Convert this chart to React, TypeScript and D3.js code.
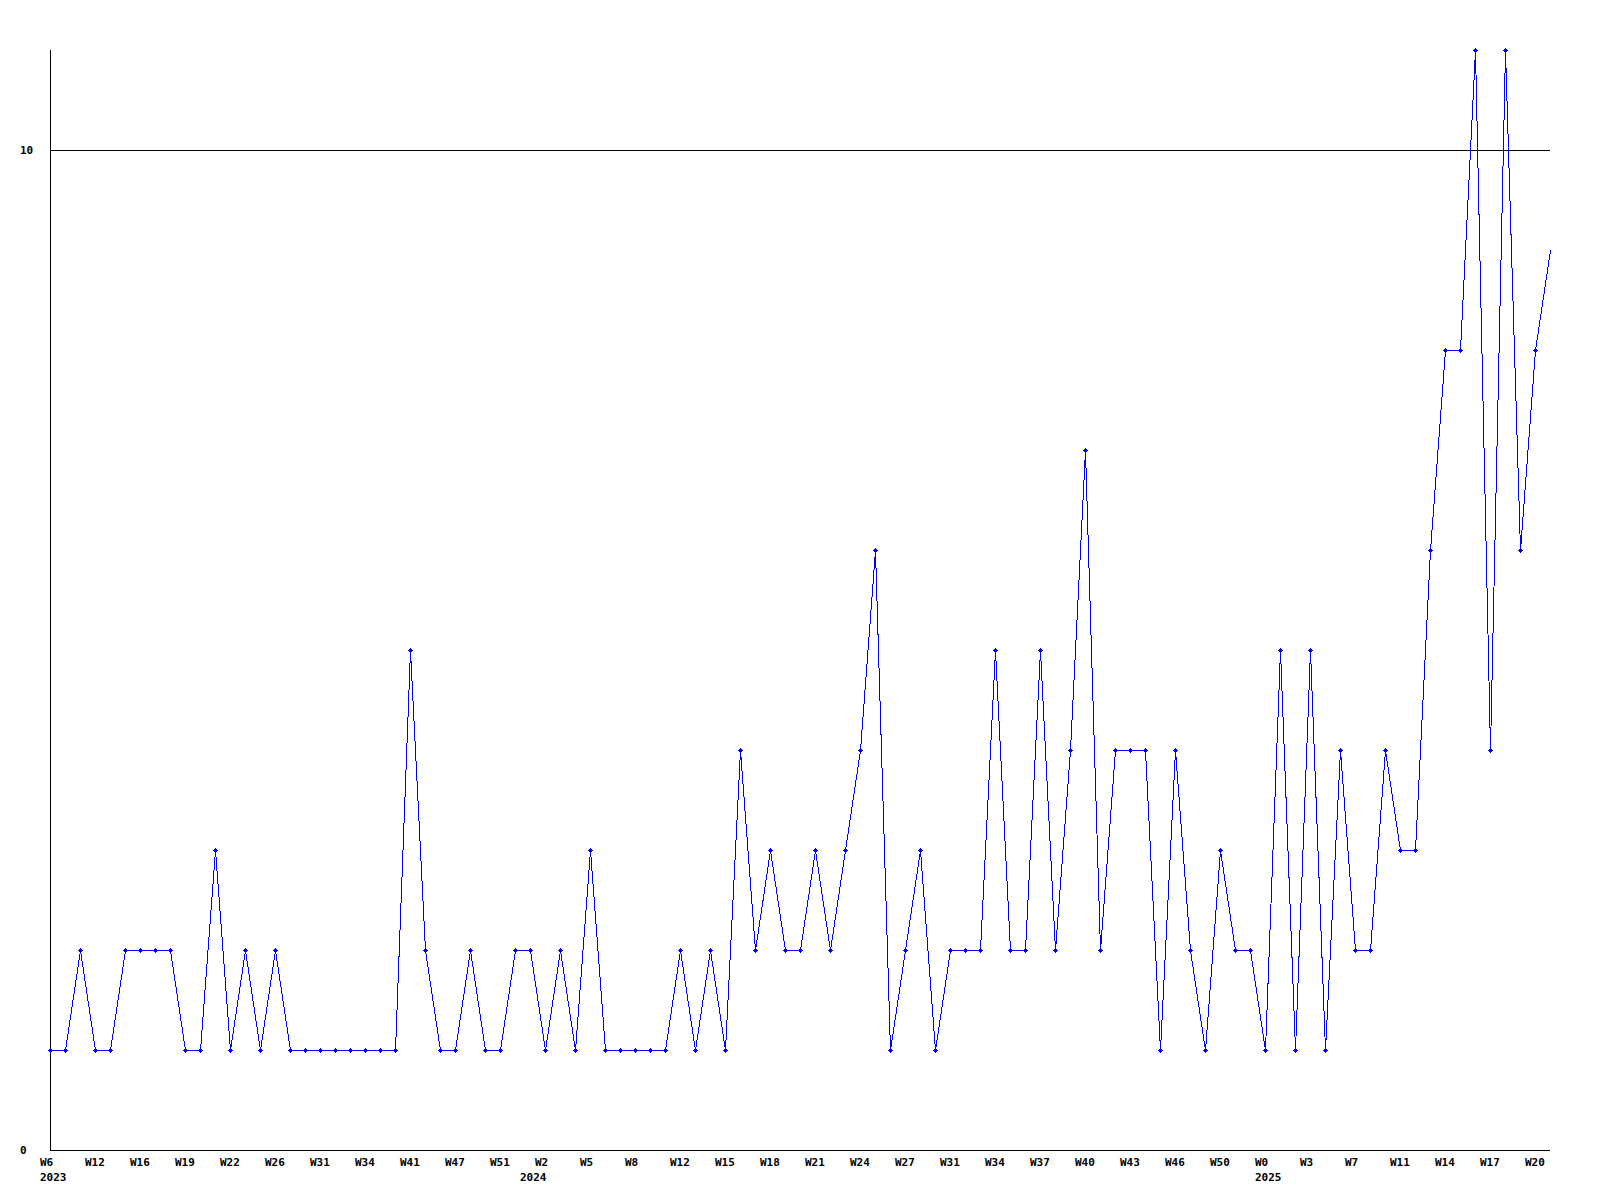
import React from "react";
import * as d3 from "d3";

const values: number[] = [
  1, 1, 2, 1, 1, 2, 2, 2, 2, 1,
  1, 3, 1, 2, 1, 2, 1, 1, 1, 1,
  1, 1, 1, 1, 5, 2, 1, 1, 2, 1,
  1, 2, 2, 1, 2, 1, 3, 1, 1, 1,
  1, 1, 2, 1, 2, 1, 4, 2, 3, 2,
  2, 3, 2, 3, 4, 6, 1, 2, 3, 1,
  2, 2, 2, 5, 2, 2, 5, 2, 4, 7,
  2, 4, 4, 4, 1, 4, 2, 1, 3, 2,
  2, 1, 5, 1, 5, 1, 4, 2, 2, 4,
  3, 3, 6, 8, 8, 11, 4, 11, 6, 8,
  9,
];

const weekLabels: string[] = [
  "W6", "W12", "W16", "W19", "W22", "W26", "W31", "W34", "W41", "W47", "W51", "W2",
  "W5", "W8", "W12", "W15", "W18", "W21", "W24", "W27", "W31", "W34", "W37", "W40",
  "W43", "W46", "W50", "W0", "W3", "W7", "W11", "W14", "W17", "W20",
];
const labelStep = 3;

const yearLabels: string[] = ["2023", "2024", "2025"];
const yearIndices: number[] = [0, 32, 81];

const yTicks: number[] = [0, 10];
const gridValues: number[] = [10];

const W = 1600;
const H = 1200;
const left = 50;
const right = 1550;
const top = 50;
const bottom = 1150;

export default function App() {
  const x = d3.scaleLinear().domain([0, values.length - 1]).range([left, right]);
  const y = d3.scaleLinear().domain([0, 11]).range([bottom, top]);
  const line = d3
    .line<number>()
    .x((_, i) => x(i))
    .y((d) => y(d));
  const font = "'DejaVu Sans Mono', monospace";
  const marker = "M-2.5,-0.5h5v1h-5z M-0.5,-2.5h1v5h-1z M-1.5,-1.5h3v3h-3z";

  return (
    <div style={{ position: "absolute", left: 0, top: 0 }}>
      <svg width={W} height={H} style={{ display: "block", background: "#fff" }}>
        <rect x={0} y={0} width={W} height={H} fill="#fff" />
        {gridValues.map((g) => (
          <line
            key={"g" + g}
            x1={left}
            x2={right}
            y1={y(g) + 0.5}
            y2={y(g) + 0.5}
            stroke="#000"
            strokeWidth={1}
            shapeRendering="crispEdges"
          />
        ))}
        <line x1={left + 0.5} x2={left + 0.5} y1={top} y2={bottom + 1} stroke="#000" shapeRendering="crispEdges" />
        <line x1={left} x2={right} y1={bottom + 0.5} y2={bottom + 0.5} stroke="#000" shapeRendering="crispEdges" />
        <path
          d={line(values) || ""}
          fill="none"
          stroke="#0000ff"
          strokeWidth={1}
          transform="translate(0.5,0.5)"
          shapeRendering="crispEdges"
        />
        {values.slice(0, values.length - 1).map((v, i) => (
          <path
            key={"m" + i}
            d={marker}
            fill="#0000ff"
            transform={`translate(${x(i) + 0.5},${y(v) + 0.5})`}
            shapeRendering="crispEdges"
          />
        ))}
        {yTicks.map((t) => (
          <text
            key={"y" + t}
            x={20}
            y={y(t) + 4}
            fontFamily={font}
            fontWeight="bold"
            fontSize={11}
            fill="#000"
          >
            {t}
          </text>
        ))}
        {weekLabels.map((l, k) => (
          <text
            key={"w" + k}
            x={x(k * labelStep) - 10}
            y={1166}
            fontFamily={font}
            fontWeight="bold"
            fontSize={11}
            fill="#000"
          >
            {l}
          </text>
        ))}
        {yearLabels.map((l, k) => (
          <text
            key={"yr" + k}
            x={x(yearIndices[k]) - 10}
            y={1181}
            fontFamily={font}
            fontWeight="bold"
            fontSize={11}
            fill="#000"
          >
            {l}
          </text>
        ))}
      </svg>
    </div>
  );
}
